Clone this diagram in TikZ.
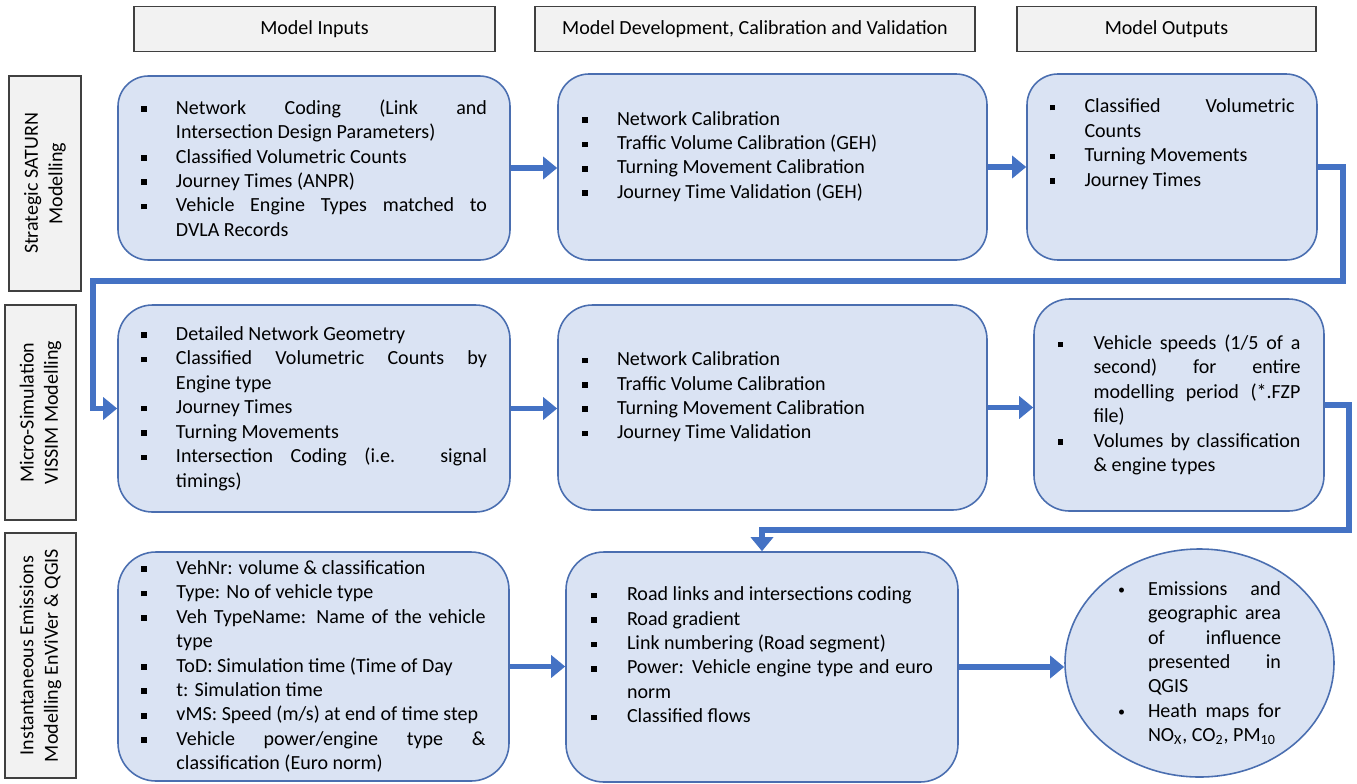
\documentclass[tikz,border=0pt]{standalone}
\usepackage{fontspec}
\setmainfont{Carlito}
\usepackage{xcolor}
\usepackage{tikz}
\usetikzlibrary{arrows.meta, positioning, shapes.geometric, calc}

\definecolor{boxfill}{HTML}{DAE3F3}
\definecolor{boxedge}{HTML}{4A6EB0}
\definecolor{flowblue}{HTML}{4472C4}
\definecolor{headfill}{HTML}{F2F2F2}
\definecolor{headedge}{HTML}{404040}

\newcommand{\diagfont}{\fontsize{11.4pt}{13.9pt}\selectfont}
\newlength{\bhang}
\newcommand{\sqbul}{\rule[0.12em]{0.28em}{0.28em}}
\newcommand{\rdbul}{\raisebox{0.05em}{\fontsize{8pt}{8pt}\selectfont\textbullet}}
\newenvironment{itemcol}[2][0.7cm]{%
  \begin{minipage}{#2}\setlength{\bhang}{#1}%
  \hyphenpenalty=10000 \tolerance=10000 \hbadness=10000
  \parindent=0pt \parskip=0pt}{\end{minipage}}
\newcommand{\sqitem}{\par\hangindent=\bhang\hangafter=1\noindent\makebox[\bhang][l]{\sqbul}}
\newcommand{\dotitem}{\par\hangindent=\bhang\hangafter=1\noindent\makebox[\bhang][l]{\rdbul}}
\newcommand{\blankline}{\par\mbox{}}

\begin{document}
\begin{tikzpicture}[
    x=0.2mm, y=-0.2mm,
    % column and row titles
    header/.style={
        rectangle,
        draw=headedge,
        fill=headfill,
        line width=0.9pt,
        inner sep=0pt,
        align=center,
        font=\diagfont
    },
    sidelabel/.style={
        header,
        rotate=90
    },
    % blue rounded boxes
    blockbox/.style={
        rectangle,
        rounded corners=#1,
        draw=boxedge,
        fill=boxfill,
        line width=0.9pt,
        inner sep=0pt,
        font=\diagfont
    },
    blockbox/.default=0.62cm,
    outbubble/.style={
        ellipse,
        draw=boxedge,
        fill=boxfill,
        line width=0.9pt,
        inner sep=0pt
    },
    flow/.style={
        draw=flowblue,
        line width=3pt,
        -{Triangle[length=2.8mm, width=4.4mm]}
    }
]
    \useasboundingbox (0,0) rectangle (1357,783);

    % --- HEADERS ---
    \node[header, minimum width=7.22cm, minimum height=0.90cm] (hInputs) at (314.5,29) {Model Inputs};
    \node[header, minimum width=8.80cm, minimum height=0.90cm] (hDevel) at (755,29) {Model Development, Calibration and Validation};
    \node[header, minimum width=5.98cm, minimum height=0.90cm] (hOutputs) at (1166.5,29) {Model Outputs};

    % --- SIDE LABELS ---
    \node[sidelabel, minimum width=4.30cm, minimum height=1.44cm] (sSaturn) at (45,183.5) {Strategic SATURN\\Modelling};
    \node[sidelabel, minimum width=4.30cm, minimum height=1.42cm] (sVissim) at (40.5,412.5) {Micro-Simulation\\VISSIM Modelling};
    \node[sidelabel, minimum width=4.90cm, minimum height=1.42cm] (sEmission) at (40.5,655.5) {Instantaneous Emissions\\Modelling EnViVer \& QGIS};

    % --- ROW 1: SATURN ---
    \node[blockbox=0.61cm, minimum width=7.84cm, minimum height=3.68cm] (inSaturn) at (314,168) {%
      \begin{itemcol}{6.92cm}
      \sqitem Network Coding (Link and\linebreak Intersection Design Parameters)
      \sqitem Classified Volumetric Counts
      \sqitem Journey Times (ANPR)
      \sqitem Vehicle Engine Types matched to\linebreak DVLA Records
      \end{itemcol}};
    \node[blockbox=0.62cm, minimum width=8.58cm, minimum height=3.72cm] (devSaturn) at (772.5,167) {%
      \begin{itemcol}{7.62cm}
      \sqitem Network Calibration
      \sqitem Traffic Volume Calibration (GEH)
      \sqitem Turning Movement Calibration
      \sqitem Journey Time Validation (GEH)
      \blankline
      \end{itemcol}};
    \node[blockbox=0.62cm, minimum width=5.80cm, minimum height=3.72cm] (outSaturn) at (1172,167) {%
      \begin{itemcol}{4.90cm}
      \sqitem Classified Volumetric\linebreak Counts
      \sqitem Turning Movements
      \sqitem Journey Times
      \blankline
      \blankline
      \end{itemcol}};

    % --- ROW 2: VISSIM ---
    \node[blockbox=0.69cm, minimum width=7.84cm, minimum height=4.14cm] (inVissim) at (314,408.5) {%
      \begin{itemcol}{6.92cm}
      \sqitem Detailed Network Geometry
      \sqitem Classified Volumetric Counts by\linebreak Engine type
      \sqitem Journey Times
      \sqitem Turning Movements
      \sqitem Intersection Coding (i.e. signal\linebreak timings)
      \end{itemcol}};
    \node[blockbox=0.69cm, minimum width=8.58cm, minimum height=4.10cm] (devVissim) at (772.5,407.5) {%
      \begin{itemcol}{7.62cm}
      \sqitem Network Calibration
      \sqitem Traffic Volume Calibration
      \sqitem Turning Movement Calibration
      \sqitem Journey Time Validation
      \blankline
      \end{itemcol}};
    \node[blockbox=0.71cm, minimum width=5.80cm, minimum height=4.24cm] (outVissim) at (1179,405) {%
      \begin{itemcol}[0.72cm]{4.86cm}
      \sqitem Vehicle speeds (1/5 of a\linebreak second) for entire\linebreak modelling period (*.FZP\linebreak file)
      \sqitem Volumes by classification\linebreak \& engine types
      \end{itemcol}};

    % --- ROW 3: EMISSIONS ---
    \node[blockbox=0.76cm, minimum width=7.82cm, minimum height=4.58cm] (inEmission) at (313.5,666.5) {%
      \begin{itemcol}{6.88cm}
      \sqitem VehNr: volume \& classification
      \sqitem Type: No of vehicle type
      \sqitem Veh TypeName: Name of the vehicle\linebreak type
      \sqitem ToD: Simulation time (Time of Day
      \sqitem t: Simulation time
      \sqitem vMS: Speed (m/s) at end of time step
      \sqitem Vehicle power/engine type \&\linebreak classification (Euro norm)
      \end{itemcol}};
    \node[blockbox=0.76cm, minimum width=7.84cm, minimum height=4.60cm] (devEmission) at (762,667) {%
      \begin{itemcol}[0.72cm]{6.84cm}
      \sqitem Road links and intersections coding
      \sqitem Road gradient
      \sqitem Link numbering (Road segment)
      \sqitem Power: Vehicle engine type and euro\linebreak norm
      \sqitem Classified flows
      \blankline
      \end{itemcol}};
    \node[outbubble, minimum width=5.38cm, minimum height=4.56cm] (outEmission) at (1199.5,663) {};
    \node[font=\diagfont, inner sep=0pt] (outEmissionText) at (outEmission.center) {%
      \begin{itemcol}[0.60cm]{3.26cm}
      \dotitem Emissions and\linebreak geographic area\linebreak of influence\linebreak presented in\linebreak QGIS
      \dotitem Heath maps for\linebreak NO\textsubscript{X}, CO\textsubscript{2}, PM\textsubscript{10}
      \end{itemcol}};

    % --- FLOW ARROWS ---
    \draw[flow] (inSaturn.east) -- (inSaturn.east -| devSaturn.west);
    \draw[flow] (devSaturn.east) -- (devSaturn.east -| outSaturn.west);
    \coordinate (turnA) at (1343,281);
    \coordinate (turnB) at (93,281);
    \draw[flow] (outSaturn.east) -| (turnA) -- (turnB) |- (inVissim.west);

    \draw[flow] (inVissim.east) -- (inVissim.east -| devVissim.west);
    \draw[flow] (devVissim.east) -- (devVissim.east -| outVissim.west);
    \coordinate (turnC) at (1349,530);
    \draw[flow] (outVissim.east) -| (turnC) -| (devEmission.north);

    \draw[flow] (inEmission.east) -- (inEmission.east -| devEmission.west);
    \draw[flow] (devEmission.east) -- (devEmission.east -| outEmission.west);

\end{tikzpicture}
\end{document}
